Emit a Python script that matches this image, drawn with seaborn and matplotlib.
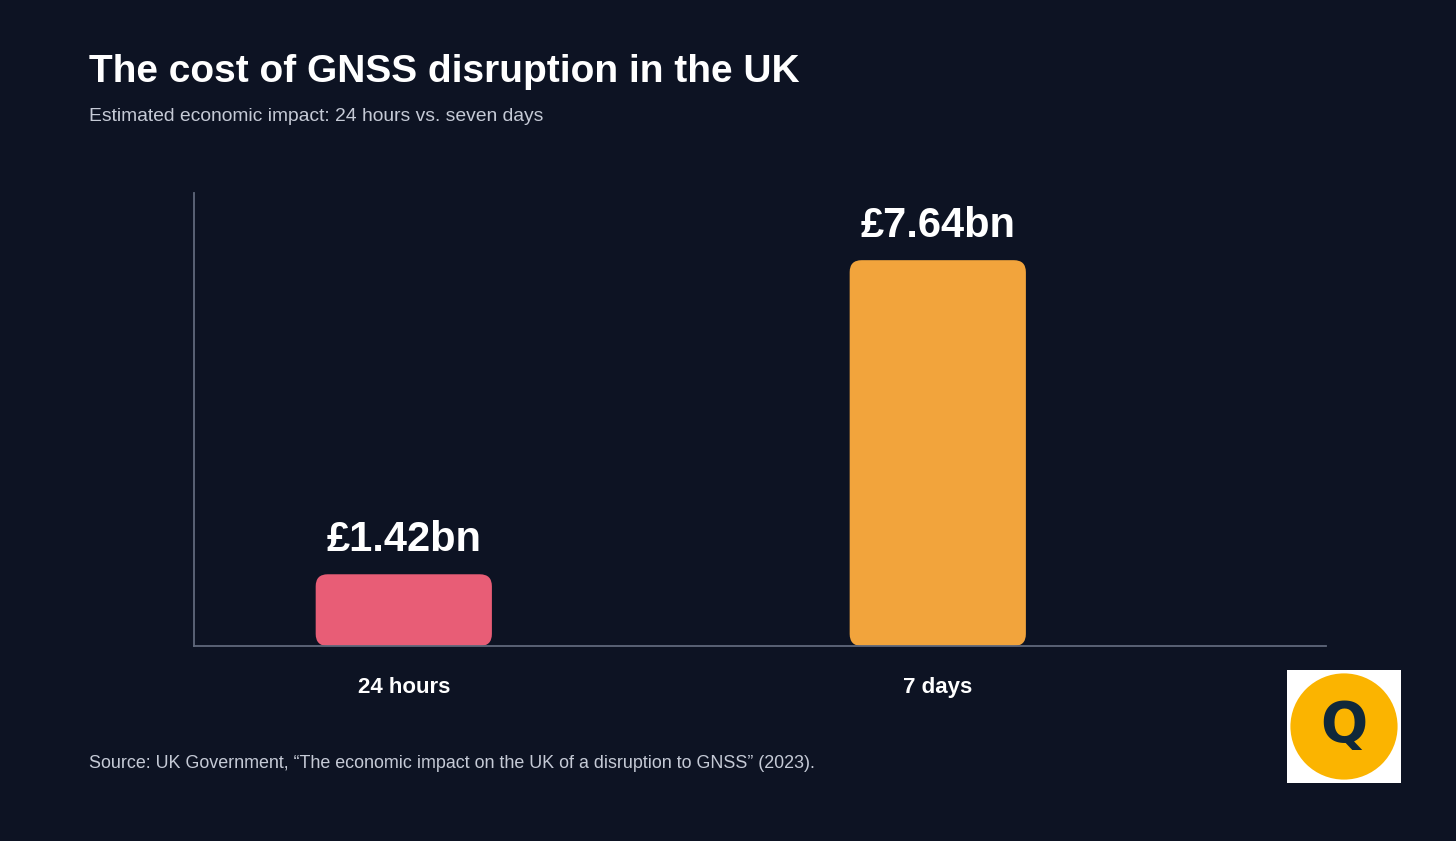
import matplotlib
matplotlib.use("Agg")
import matplotlib.pyplot as plt
import pandas as pd
import seaborn as sns
from matplotlib.patches import FancyBboxPatch, Circle

# data
periods = ["24 hours", "7 days"]
cost_bn = [1.42, 7.64]
bar_colors = ["#e85d76", "#f2a43c"]
value_labels = ["£1.42bn", "£7.64bn"]

title = "The cost of GNSS disruption in the UK"
subtitle = "Estimated economic impact: 24 hours vs. seven days"
source = "Source: UK Government, \u201cThe economic impact on the UK of a disruption to GNSS\u201d (2023)."

bg = "#0d1323"
df = pd.DataFrame({"period": periods, "cost": cost_bn})

sns.set_theme(style="white")
plt.rcParams["font.family"] = ["Liberation Sans", "DejaVu Sans"]

fig = plt.figure(figsize=(14.56, 8.41), dpi=100, facecolor=bg)
ax = fig.add_axes([0.1332, 0.2319, 0.7775, 0.5386])
ax.set_facecolor(bg)

sns.barplot(data=df, x="period", y="cost", hue="period", palette=bar_colors,
            legend=False, width=0.33, saturation=1, ax=ax)
ax.set_xlim(-0.393, 1.727)
ax.set_ylim(0, 8.97)

# swap the plain bars for rounded ones
fig.canvas.draw()
bbox = ax.get_window_extent()
x0, x1 = ax.get_xlim()
y0, y1 = ax.get_ylim()
px_x = bbox.width / (x1 - x0)
px_y = bbox.height / (y1 - y0)
radius_px = 12
bars = list(ax.patches)
for bar in bars:
    x, y = bar.get_x(), bar.get_y()
    w, h = bar.get_width(), bar.get_height()
    fc = bar.get_facecolor()
    bar.remove()
    ax.add_patch(FancyBboxPatch(
        (x, y), w, h,
        boxstyle=f"round,pad=0,rounding_size={radius_px / px_x}",
        mutation_aspect=px_x / px_y,
        facecolor=fc, edgecolor="none", zorder=2))

for i, (v, lab) in enumerate(zip(cost_bn, value_labels)):
    ax.annotate(lab, (i, v), xytext=(0, 17), textcoords="offset points",
                ha="center", va="baseline", color="white",
                fontsize=30, fontweight="bold")

for side in ["top", "right"]:
    ax.spines[side].set_visible(False)
for side in ["left", "bottom"]:
    ax.spines[side].set_color("#5f687b")
    ax.spines[side].set_linewidth(1.3)
    ax.spines[side].set_zorder(3)
ax.set_yticks([])
ax.set_xlabel("")
ax.set_ylabel("")
ax.tick_params(axis="x", length=0, pad=22.5, labelsize=16, labelcolor="white")
for t in ax.get_xticklabels():
    t.set_fontweight("bold")

fig.text(0.0611, 0.9025, title, color="white", fontsize=28,
         fontweight="bold", va="baseline", ha="left")
fig.text(0.0611, 0.8561, subtitle, color="#c5cad6", fontsize=13.9,
         va="baseline", ha="left")
fig.text(0.0611, 0.0868, source, color="#c5cad6", fontsize=12.85,
         va="baseline", ha="left")

# logo
lax = fig.add_axes([1287 / 1456, 1 - 783 / 841, 114 / 1456, 113 / 841])
lax.set_xlim(0, 1)
lax.set_ylim(0, 1)
lax.set_facecolor("white")
lax.set_xticks([])
lax.set_yticks([])
for s in lax.spines.values():
    s.set_visible(False)
lax.add_patch(Circle((0.5, 0.5), 0.47, transform=lax.transAxes,
                     facecolor="#fbb400", edgecolor="none"))
lax.text(0.5, 0.5, "Q", ha="center", va="center", fontsize=40,
         fontweight="heavy", color="#10283a", family="DejaVu Sans")

fig.savefig("out.png", dpi=100, facecolor=bg)
